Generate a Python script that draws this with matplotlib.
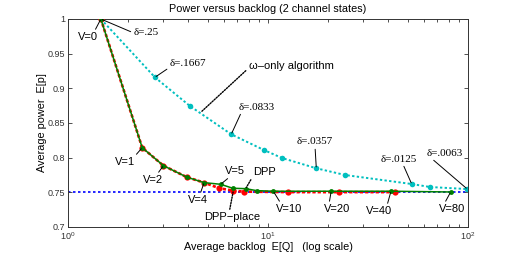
import matplotlib
matplotlib.use("Agg")
import matplotlib.pyplot as plt
from matplotlib.ticker import LogLocator, NullFormatter, FixedLocator

# ---- data ----
dpp_V = ["V=0", "V=1", "V=2", "V=3", "V=4", "V=5", "V=6", "V=7", "V=8", "V=10", "V=20", "V=40", "V=80"]
dpp_x = [1.46, 2.35, 3.0, 3.92, 4.79, 5.80, 6.66, 7.73, 8.78, 10.63, 20.7, 41.2, 81.9]
dpp_y = [1.0, 0.8144, 0.7885, 0.772, 0.764, 0.7616, 0.7559, 0.7553, 0.7524, 0.7516, 0.7516, 0.7516, 0.7505]

place_x = [1.46, 2.35, 3.0, 3.92, 4.79, 5.71, 6.71, 7.59, 12.6, 22.7, 43.2]
place_y = [1.0, 0.8144, 0.7885, 0.772, 0.764, 0.7559, 0.7524, 0.751, 0.7503, 0.7503, 0.7503]

omega_x = [1.46, 2.72, 4.07, 6.55, 9.55, 11.75, 17.44, 24.27, 52.3, 64.6, 99.2]
omega_y = [1.0, 0.9159, 0.8745, 0.8337, 0.811, 0.7995, 0.7847, 0.775, 0.762, 0.7577, 0.7547]

min_power = 0.75

y_ticks = [0.7, 0.75, 0.8, 0.85, 0.9, 0.95, 1.0]
y_ticklabels = ["0.7", "0.75", "0.8", "0.85", "0.9", "0.95", "1"]

title = "Power versus backlog (2 channel states)"
xlabel = "Average backlog  E[Q]   (log scale)"
ylabel = "Average power  E[p]"

# ---- figure ----
W, H = 519, 256
fig = plt.figure(figsize=(W / 100, H / 100), dpi=100)
ax = fig.add_axes([68 / W, 1 - 227 / H, 400 / W, 208 / H])

sans = ["Liberation Sans", "DejaVu Sans"]
serif = ["Liberation Serif", "DejaVu Serif"]
green = "#008000"
red = "#ff0000"
cyan = "#00bfbf"

ax.axhline(min_power, color="#0000ff", linestyle=(0, (1.5, 1.5)), linewidth=1.2, zorder=1)
ax.plot(omega_x, omega_y, color=cyan, linestyle=(0, (1.2, 1.2)), linewidth=1.4,
        marker="o", markersize=4, markeredgewidth=0, zorder=2)
ax.plot(place_x, place_y, color=red, linestyle=(0, (1.2, 0.8)), linewidth=1.9,
        marker="o", markersize=4.5, markeredgewidth=0, zorder=3)
ax.plot(dpp_x, dpp_y, color=green, linestyle="-", linewidth=1.1,
        marker="o", markersize=3.5, markeredgewidth=0, zorder=4)

ax.set_xscale("log")
ax.set_xlim(1, 100)
ax.set_ylim(0.7, 1.0)
ax.yaxis.set_major_locator(FixedLocator(y_ticks))
ax.set_yticklabels(y_ticklabels)
ax.xaxis.set_major_locator(LogLocator(base=10, numticks=10))
ax.xaxis.set_minor_locator(LogLocator(base=10, subs=range(2, 10), numticks=20))
ax.xaxis.set_minor_formatter(NullFormatter())

ax.tick_params(which="both", direction="in", top=True, right=True, labelsize=6.5,
               colors="#333333", width=0.6)
ax.tick_params(which="major", length=3)
ax.tick_params(which="minor", length=2)
ax.tick_params(axis="x", pad=2.5)
ax.tick_params(axis="y", pad=2)
for lab in ax.get_xticklabels() + ax.get_yticklabels():
    lab.set_family(sans)
for s in ax.spines.values():
    s.set_linewidth(0.7)
    s.set_color("#333333")

ax.set_title(title, fontsize=7.8, family=sans, pad=5)
ax.set_xlabel(xlabel, fontsize=7.8, family=sans, va="center")
ax.xaxis.set_label_coords(0.5, (227 - 247.5) / 208)
ax.set_ylabel(ylabel, fontsize=7.8, family=sans, va="center")
ax.yaxis.set_label_coords((42 - 68) / 400, 0.5)

line = dict(arrowstyle="-", color="black", linewidth=0.7, shrinkA=0, shrinkB=1)
dotline = dict(arrowstyle="-", color="black", linewidth=1.0, linestyle=(0, (1, 1)), shrinkA=0, shrinkB=1)

def note(text, xy, xytext, fam, props, relpos=(0.5, 0.5)):
    p = dict(props)
    p["relpos"] = relpos
    ax.annotate(text, xy=xy, xytext=xytext, textcoords="data", fontsize=8,
                family=fam, ha="center", va="center", arrowprops=p, zorder=6)

# DPP labels
note(dpp_V[0], (dpp_x[0], dpp_y[0]), (1.26, 0.974), sans, line, (0.8, 1.0))
note(dpp_V[1], (dpp_x[1], dpp_y[1]), (1.93, 0.7937), sans, line, (0.9, 0.9))
note(dpp_V[2], (dpp_x[2], dpp_y[2]), (2.66, 0.7678), sans, line)
note(dpp_V[4], (dpp_x[4], dpp_y[4]), (4.47, 0.739), sans, line)
note(dpp_V[5], (dpp_x[5], dpp_y[5]), (6.84, 0.781), sans, line, (0.3, 0.0))
note(dpp_V[9], (dpp_x[9], dpp_y[9]), (12.74, 0.726), sans, line, (0.2, 1.0))
note(dpp_V[10], (dpp_x[10], dpp_y[10]), (22.1, 0.726), sans, line, (0.2, 1.0))
note(dpp_V[11], (dpp_x[11], dpp_y[11]), (35.9, 0.723), sans, line, (0.8, 1.0))
note(dpp_V[12], (dpp_x[12], dpp_y[12]), (83.2, 0.726), sans, line, (0.2, 1.0))
note("DPP", (dpp_x[7], dpp_y[7]), (9.66, 0.7793), sans, dotline, (0.0, 0.2))
note("DPP\u2212place", (place_x[6], place_y[6]), (6.61, 0.7144), sans, dotline, (0.45, 1.0))

# omega-only labels
note("\u03b4=.25", (omega_x[0], omega_y[0]), (2.455, 0.980), serif, line, (0.0, 0.5))
note("\u03b4=.1667", (omega_x[1], omega_y[1]), (3.98, 0.9365), serif, line, (0.1, 0.3))
note("\u03b4=.0833", (omega_x[3], omega_y[3]), (8.81, 0.873), serif, line, (0.1, 0.2))
note("\u03b4=.0357", (omega_x[6], omega_y[6]), (17.18, 0.8226), serif, line, (0.5, 0.0))
note("\u03b4=.0125", (omega_x[8], omega_y[8]), (45.2, 0.798), serif, line, (0.6, 0.0))
note("\u03b4=.0063", (omega_x[10], omega_y[10]), (76.7, 0.8067), serif, line, (0.1, 0.0))
note("\u03c9\u2013only algorithm", (4.57, 0.8644), (13.03, 0.932), sans, dotline, (0.0, 0.3))

fig.savefig("out.png", dpi=100)
